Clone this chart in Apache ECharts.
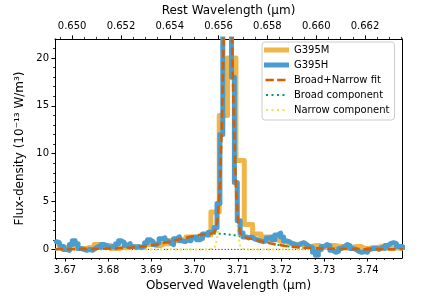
<!DOCTYPE html>
<html>
<head>
<meta charset="utf-8">
<script src="https://cdn.jsdelivr.net/npm/echarts@6/dist/echarts.min.js"></script>
<style>html,body{margin:0;padding:0;background:#fff}#c{width:447px;height:298px}</style>
</head>
<body>
<div id="c"></div>
<script>
// ---- data ----
const xTicksObs = [3.67, 3.68, 3.69, 3.70, 3.71, 3.72, 3.73, 3.74];
const xTicksRest = [0.650, 0.652, 0.654, 0.656, 0.658, 0.660, 0.662];
const yTicks = [0, 5, 10, 15, 20];
const restFactor = 5.6487; // observed / rest (1+z)

const g395mWave = [3.66807,3.67000,3.67193,3.67386,3.67579,3.67772,3.67965,3.68158,3.68351,3.68544,3.68737,3.68930,3.69123,3.69316,3.69509,3.69702,3.69895,3.70088,3.70281,3.70474,3.70667,3.70860,3.71053,3.71246,3.71439,3.71632,3.71825,3.72018,3.72211,3.72404,3.72597,3.72790,3.72983,3.73176,3.73369,3.73562,3.73755,3.73948,3.74141,3.74334,3.74527,3.74720,3.74913];
const g395mFlux = [0.3,0.2,0.4,0.1,0.2,0.5,0.4,0.1,0.2,0.3,0.2,0.5,0.4,0.6,0.9,1.0,1.3,1.1,1.5,3.9,14.0,20.0,9.3,2.6,1.6,1.3,1.0,0.8,0.6,0.5,0.3,0.4,0.2,0.4,0.3,0.2,0.3,0.1,0.2,0.3,0.1,0.2,0.2];

const g395hWave = [3.66800,3.66867,3.66934,3.67001,3.67068,3.67135,3.67202,3.67269,3.67336,3.67403,
3.67470,3.67537,3.67604,3.67671,3.67738,3.67805,3.67872,3.67939,3.68006,3.68073,
3.68140,3.68207,3.68274,3.68341,3.68408,3.68475,3.68542,3.68609,3.68676,3.68743,
3.68810,3.68877,3.68944,3.69011,3.69078,3.69145,3.69212,3.69279,3.69346,3.69413,
3.69480,3.69547,3.69614,3.69681,3.69748,3.69815,3.69882,3.69949,3.70016,3.70083,
3.70150,3.70217,3.70284,3.70351,3.70418,3.70485,3.70552,3.70619,3.70686,3.70753,
3.70820,3.70887,3.70954,3.71021,3.71088,3.71155,3.71222,3.71289,3.71356,3.71423,
3.71490,3.71557,3.71624,3.71691,3.71758,3.71825,3.71892,3.71959,3.72026,3.72093,
3.72160,3.72227,3.72294,3.72361,3.72428,3.72495,3.72562,3.72629,3.72696,3.72763,
3.72830,3.72897,3.72964,3.73031,3.73098,3.73165,3.73232,3.73299,3.73366,3.73433,
3.73500,3.73567,3.73634,3.73701,3.73768,3.73835,3.73902,3.73969,3.74036,3.74103,
3.74170,3.74237,3.74304,3.74371,3.74438,3.74505,3.74572,3.74639,3.74706,3.74773,3.74840];
const g395hFlux = [0.8,0.7,0.3,0.0,-0.1,0.5,0.9,0.6,0.1,0.0,
-0.1,0.0,-0.1,0.1,0.3,0.2,0.5,0.4,0.2,0.3,
0.2,0.6,0.9,0.7,0.4,0.6,0.3,0.2,0.3,0.2,
0.4,0.7,1.0,0.8,0.5,0.7,1.1,1.2,0.9,0.7,
0.5,1.1,1.3,0.9,0.8,1.0,0.9,1.2,1.3,1.0,
1.2,1.6,1.5,1.8,1.9,2.3,4.8,12.0,25.0,36.0,
32.0,18.0,7.0,3.0,1.7,1.3,1.2,1.3,1.1,1.0,
0.9,0.8,0.9,1.2,1.3,1.0,1.5,1.7,1.3,0.9,
0.8,0.6,0.5,0.4,0.6,0.7,0.5,0.3,0.2,-0.3,
-0.6,0.0,0.3,0.5,0.4,-0.1,-0.3,-0.2,0.1,0.3,
0.5,0.4,0.1,0.0,-0.2,-0.3,-0.2,-0.3,0.0,0.1,
0.1,0.0,0.2,0.1,0.4,0.6,0.7,0.6,0.3,0.3,0.2];

const fitWave = [3.6677,3.672,3.677,3.681,3.685,3.687,3.689,3.691,3.693,3.695,3.697,3.699,3.701,3.703,3.7039,3.70438,3.70485,3.70533,3.7058,3.70628,3.70675,3.70723,3.7077,3.70818,3.70865,3.70913,3.7096,3.71008,3.71055,3.71103,3.7115,3.713,3.715,3.717,3.719,3.721,3.723,3.725,3.729,3.733,3.740,3.7482];
const fitFlux = [0.015,0.025,0.05,0.09,0.18,0.26,0.36,0.50,0.68,0.89,1.11,1.32,1.50,1.61,1.65,1.72,2.03,3.14,6.24,12.67,22.2,31.6,35.6,31.55,22.1,12.53,6.05,2.90,1.74,1.39,1.28,1.11,0.89,0.68,0.50,0.36,0.26,0.18,0.09,0.05,0.02,0.008];

const broadWave = [3.6677,3.672,3.677,3.681,3.685,3.687,3.689,3.691,3.693,3.695,3.697,3.699,3.701,3.703,3.705,3.707,3.709,3.711,3.713,3.715,3.717,3.719,3.721,3.723,3.725,3.729,3.733,3.740,3.7482];
const broadFlux = [0.015,0.025,0.05,0.09,0.18,0.26,0.36,0.50,0.68,0.89,1.11,1.32,1.50,1.61,1.65,1.61,1.50,1.32,1.11,0.89,0.68,0.50,0.36,0.26,0.18,0.09,0.05,0.02,0.008];

const narrowWave = [3.6677,3.7035,3.7039,3.70438,3.70485,3.70533,3.7058,3.70628,3.70675,3.70723,3.7077,3.70818,3.70865,3.70913,3.7096,3.71008,3.71055,3.71103,3.7115,3.712,3.7482];
const narrowFlux = [0,0,0.011,0.074,0.38,1.49,4.60,11.04,20.6,30.0,34.0,30.0,20.6,11.04,4.60,1.49,0.38,0.074,0.011,0,0];

const zeroWave = [3.6677, 3.7482];
const zeroFlux = [0, 0];

const X_MIN = 3.66769, X_MAX = 3.7480, Y_MIN = -0.9, Y_MAX = 22;

// ---- build ----
const zip = (a, b) => a.map((v, i) => [v, b[i]]);
const FONT = 'DejaVu Sans';
const tickStyle = {color: '#000', width: 1};
const C = {m: '#EFB548', h: '#4A9DCE', fit: '#D55E00', broad: '#009E73', narrow: '#F0E442'};

// legend icon shapes in a 25x10 box (corner moves pin the box)
const BOX = 'M0,0 M25,10 ';
const iconSolid = 'path://' + BOX + 'M0,2.5 L25,2.5 L25,7.5 L0,7.5 Z';
const iconDash = 'path://' + BOX + 'M1.5,3.75 L9.8,3.75 L9.8,6.25 L1.5,6.25 Z M13.2,3.75 L21.5,3.75 L21.5,6.25 L13.2,6.25 Z';
const iconDot = 'path://' + BOX + 'M2,4 L4,4 L4,6 L2,6 Z M7.5,4 L9.5,4 L9.5,6 L7.5,6 Z M13,4 L15,4 L15,6 L13,6 Z M18.5,4 L20.5,4 L20.5,6 L18.5,6 Z';
const legItem = (name, icon, color) => ({name, icon, itemStyle: {color, borderWidth: 0, opacity: 1}});

const chart = echarts.init(document.getElementById('c'), null, {renderer: 'canvas'});
chart.setOption({
  animation: false,
  textStyle: {fontFamily: FONT},
  grid: {left: 55, right: 45, top: 35, bottom: 40, containLabel: false},
  legend: {
    orient: 'vertical', left: 262, top: 42,
    itemWidth: 25, itemHeight: 10, itemGap: 3,
    padding: [2, 5, 4, 2],
    backgroundColor: 'rgba(255,255,255,0.85)', borderColor: '#cccccc', borderWidth: 1, borderRadius: 3,
    textStyle: {fontSize: 10, color: '#000', fontFamily: FONT, lineHeight: 12},
    data: [
      legItem('G395M', iconSolid, C.m),
      legItem('G395H', iconSolid, C.h),
      legItem('Broad+Narrow fit', iconDash, C.fit),
      legItem('Broad component', iconDot, C.broad),
      legItem('Narrow component', iconDot, C.narrow)
    ]
  },
  xAxis: [
    {
      type: 'value', position: 'bottom', min: X_MIN, max: X_MAX,
      splitNumber: 8, minInterval: 0.01, maxInterval: 0.01,
      name: 'Observed Wavelength (μm)', nameLocation: 'middle', nameGap: 22,
      nameTextStyle: {fontSize: 12, color: '#000', fontFamily: FONT},
      axisLine: {onZero: false, lineStyle: tickStyle},
      axisTick: {show: true, length: 3.5, lineStyle: tickStyle, customValues: xTicksObs},
      minorTick: {show: true, splitNumber: 5, length: 2, lineStyle: {color: '#000', width: 0.8}},
      axisLabel: {fontSize: 10, color: '#000', margin: 7, customValues: xTicksObs, formatter: v => v.toFixed(2)},
      splitLine: {show: false}
    },
    {
      type: 'value', position: 'top', min: X_MIN / restFactor, max: X_MAX / restFactor,
      splitNumber: 7, minInterval: 0.002, maxInterval: 0.002,
      name: 'Rest Wavelength (μm)', nameLocation: 'middle', nameGap: 20,
      nameTextStyle: {fontSize: 12, color: '#000', fontFamily: FONT},
      axisLine: {onZero: false, lineStyle: tickStyle},
      axisTick: {show: true, length: 3.5, lineStyle: tickStyle, customValues: xTicksRest},
      minorTick: {show: true, splitNumber: 4, length: 2, lineStyle: {color: '#000', width: 0.8}},
      axisLabel: {fontSize: 10, color: '#000', margin: 7, customValues: xTicksRest, formatter: v => v.toFixed(3)},
      splitLine: {show: false}
    }
  ],
  yAxis: [
    {
      type: 'value', min: Y_MIN, max: Y_MAX, splitNumber: 5, minInterval: 5, maxInterval: 5,
      name: 'Flux-density (10⁻¹³ W/m³)', nameLocation: 'middle', nameGap: 12, nameRotate: 90,
      nameTextStyle: {fontSize: 12, color: '#000', fontFamily: FONT},
      axisLine: {show: true, onZero: false, lineStyle: tickStyle},
      axisTick: {show: true, length: 3.5, lineStyle: tickStyle, customValues: yTicks},
      minorTick: {show: true, splitNumber: 5, length: 2, lineStyle: {color: '#000', width: 0.8}},
      axisLabel: {fontSize: 10, color: '#000', margin: 6, customValues: yTicks},
      splitLine: {show: false}
    },
    {
      type: 'value', position: 'right', min: Y_MIN, max: Y_MAX,
      axisLine: {show: true, onZero: false, lineStyle: tickStyle},
      axisTick: {show: false}, axisLabel: {show: false}, splitLine: {show: false}
    }
  ],
  series: [
    {name: 'zero', type: 'line', data: zip(zeroWave, zeroFlux), symbol: 'none', silent: true, z: 1,
     lineStyle: {color: '#000', width: 0.8, type: [1.2, 2]}},
    {name: 'Broad component', type: 'line', data: zip(broadWave, broadFlux), symbol: 'none', z: 2,
     color: C.broad, lineStyle: {color: C.broad, width: 2, type: [2, 3]}},
    {name: 'Narrow component', type: 'line', data: zip(narrowWave, narrowFlux), symbol: 'none', z: 2,
     color: C.narrow, lineStyle: {color: C.narrow, width: 2, type: [2, 3]}},
    {name: 'G395M', type: 'line', step: 'middle', data: zip(g395mWave, g395mFlux), symbol: 'none', z: 3,
     color: C.m, lineStyle: {color: C.m, width: 5, join: 'round'}},
    {name: 'G395H', type: 'line', step: 'middle', data: zip(g395hWave, g395hFlux), symbol: 'none', z: 4,
     color: C.h, lineStyle: {color: C.h, width: 5, join: 'round', cap: 'round'}},
    {name: 'Broad+Narrow fit', type: 'line', data: zip(fitWave, fitFlux), symbol: 'none', z: 5,
     color: C.fit, lineStyle: {color: C.fit, width: 2.5, type: [8, 4]}}
  ]
});
</script>
</body>
</html>
